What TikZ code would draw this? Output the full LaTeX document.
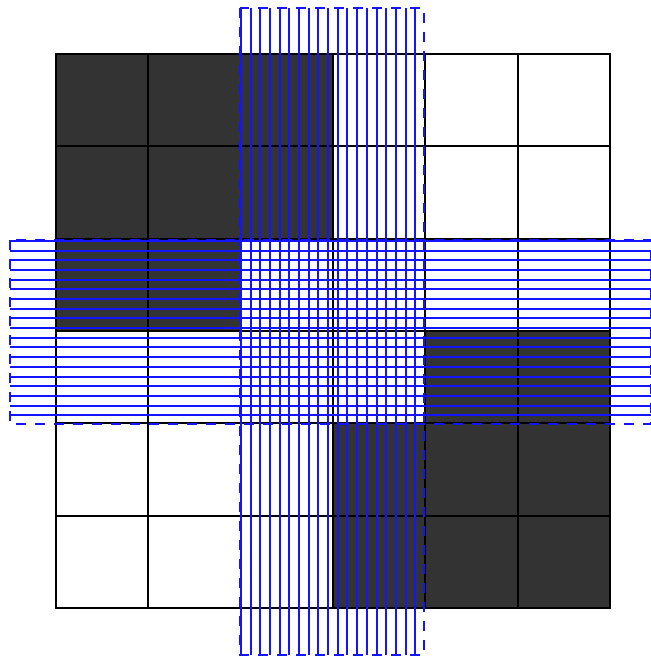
\documentclass[tikz,border=0pt]{standalone}
\usetikzlibrary{calc}
\definecolor{cellgray}{HTML}{333333}
\definecolor{bandblue}{RGB}{20,20,255}
\tikzset{
  darkcell/.style={fill=cellgray, draw=none},
  gridline/.style={draw=black, line width=2pt},
  bandline/.style={draw=bandblue, line width=1.5pt},
  bandborder/.style={draw=bandblue, line width=1.5pt, dash pattern=on 10pt off 9pt}
}
\begin{document}
\begin{tikzpicture}[x=1pt, y=-1pt]
\useasboundingbox (0,0) rectangle (651,657);
\fill[white] (0,0) rectangle (651,657);
\def\cs{92.333}
% dark cells
\foreach \r/\c in {0/0,0/1,0/2,1/0,1/1,1/2,2/0,2/1,3/4,3/5,4/3,4/4,4/5,5/3,5/4,5/5}{
  \fill[darkcell] ({56+\c*\cs},{54+\r*\cs}) rectangle ({56+(\c+1)*\cs},{54+(\r+1)*\cs});
}
% grid
\foreach \i in {0,...,6}{
  \pgfmathsetmacro{\g}{round(56+\i*\cs)}
  \pgfmathsetmacro{\h}{round(54+\i*\cs)}
  \draw[gridline] (\g,53) -- (\g,609);
  \draw[gridline] (55,\h) -- (611,\h);
}
% vertical band
\foreach \k in {0,...,18}{
  \pgfmathsetmacro{\p}{round(241+\k*9.68)}
  \draw[bandline] (\p,8) -- (\p,655);
}
\draw[bandborder] (240,8) rectangle (424,655);
% horizontal band
\foreach \k in {0,...,18}{
  \pgfmathsetmacro{\q}{round(241+\k*9.68)}
  \draw[bandline] (10,\q) -- (651,\q);
}
\draw[bandborder] (10,240) rectangle (651,424);
\end{tikzpicture}
\end{document}
